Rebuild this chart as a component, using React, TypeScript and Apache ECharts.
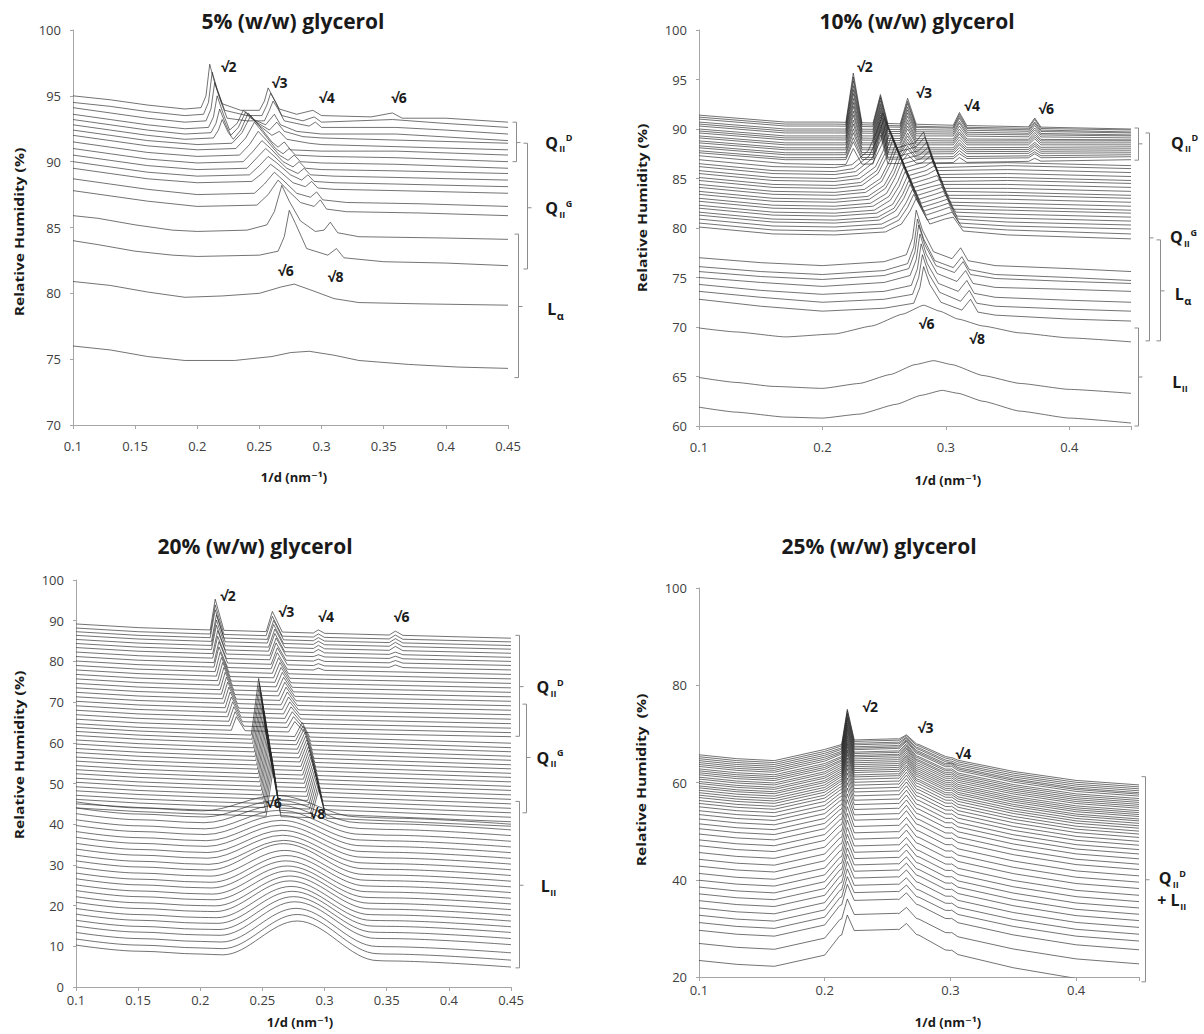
import React, { useEffect, useRef } from "react";
import * as echarts from "echarts";

const FONT = "'Open Sans', 'DejaVu Sans', sans-serif";

// ======================= DATA =======================
const titles = ["5% (w/w) glycerol", "10% (w/w) glycerol", "20% (w/w) glycerol", "25% (w/w) glycerol"];
const yAxisTitles = ["Relative Humidity (%)", "Relative Humidity (%)", "Relative Humidity (%)", "Relative Humidity  (%)"];
const xAxisTitle = "1/d (nm\u207B\u00B9)";

const xRange = [0.1, 0.45];
const xIntervals = [0.05, 0.1, 0.05, 0.1];
const yRanges = [
  [70, 100, 5],
  [60, 100, 5],
  [0, 100, 10],
  [20, 100, 20],
];

// ---- Panel 1 (5%): curves read as [x, y] key points ----
const p1Curves = [
  [[0.1,95.0],[0.13,94.7],[0.16,94.3],[0.19,94.0],[0.203,94.1],[0.207,95.0],[0.21,97.4],[0.214,96.0],[0.22,94.4],[0.235,93.9],[0.25,93.9],[0.254,94.6],[0.257,95.6],[0.261,94.9],[0.266,94.0],[0.28,93.6],[0.293,93.9],[0.3,93.5],[0.34,93.4],[0.357,93.7],[0.365,93.3],[0.4,93.3],[0.45,93.0]],
  [[0.1,94.5],[0.13,94.2],[0.16,93.8],[0.19,93.5],[0.205,93.6],[0.209,94.5],[0.212,96.8],[0.216,95.5],[0.222,93.9],[0.24,93.5],[0.252,93.5],[0.256,94.3],[0.259,95.2],[0.263,94.5],[0.268,93.5],[0.285,93.1],[0.294,93.4],[0.3,93.0],[0.357,93.2],[0.4,92.9],[0.45,92.6]],
  [[0.1,94.1],[0.13,93.7],[0.16,93.3],[0.19,93.0],[0.207,93.1],[0.211,94.0],[0.214,96.0],[0.218,94.8],[0.224,93.3],[0.24,93.1],[0.254,93.1],[0.258,93.9],[0.261,94.6],[0.265,94.0],[0.27,93.1],[0.29,92.7],[0.295,93.0],[0.3,92.6],[0.36,92.6],[0.4,92.4],[0.45,92.1]],
  [[0.1,93.6],[0.13,93.2],[0.16,92.8],[0.19,92.5],[0.209,92.6],[0.213,93.4],[0.216,95.0],[0.221,93.6],[0.226,92.4],[0.232,92.9],[0.237,93.9],[0.243,93.3],[0.255,92.8],[0.262,93.6],[0.267,92.8],[0.28,92.3],[0.3,92.1],[0.36,92.1],[0.45,91.6]],
  [[0.1,93.2],[0.13,92.8],[0.16,92.4],[0.19,92.1],[0.211,92.2],[0.215,92.9],[0.218,94.0],[0.223,92.8],[0.227,92.0],[0.233,92.6],[0.239,93.8],[0.246,93.1],[0.258,92.4],[0.264,93.0],[0.27,92.3],[0.285,91.9],[0.3,91.8],[0.45,91.4]],
  [[0.1,92.8],[0.13,92.4],[0.16,92.0],[0.19,91.7],[0.213,91.8],[0.217,92.4],[0.22,93.2],[0.225,92.2],[0.229,91.7],[0.235,92.4],[0.241,93.7],[0.248,92.9],[0.26,92.0],[0.266,92.3],[0.272,91.7],[0.29,91.4],[0.3,91.3],[0.45,90.9]],
  [[0.1,92.4],[0.13,92.0],[0.16,91.6],[0.2,91.3],[0.228,91.4],[0.236,92.2],[0.243,93.5],[0.25,92.7],[0.26,91.5],[0.265,91.1],[0.27,91.5],[0.275,90.9],[0.3,90.8],[0.36,90.8],[0.45,90.5]],
  [[0.1,92.0],[0.13,91.6],[0.16,91.2],[0.2,90.9],[0.231,91.0],[0.239,91.8],[0.246,93.0],[0.253,92.2],[0.263,91.0],[0.269,90.6],[0.274,91.0],[0.279,90.5],[0.3,90.4],[0.36,90.3],[0.45,90.0]],
  [[0.1,91.5],[0.13,91.1],[0.16,90.7],[0.2,90.4],[0.234,90.5],[0.242,91.3],[0.249,92.3],[0.256,91.6],[0.266,90.5],[0.273,90.1],[0.278,90.5],[0.283,90.0],[0.3,89.9],[0.36,89.8],[0.45,89.5]],
  [[0.1,91.0],[0.13,90.6],[0.16,90.2],[0.2,89.9],[0.237,90.0],[0.245,90.8],[0.252,91.6],[0.259,91.0],[0.269,90.0],[0.277,89.6],[0.282,90.0],[0.287,89.5],[0.3,89.4],[0.36,89.3],[0.45,89.1]],
  [[0.1,90.5],[0.13,90.1],[0.16,89.7],[0.2,89.4],[0.24,89.5],[0.248,90.3],[0.255,91.0],[0.262,90.4],[0.272,89.5],[0.281,89.1],[0.286,89.5],[0.291,89.0],[0.31,88.9],[0.36,88.8],[0.45,88.6]],
  [[0.1,90.0],[0.13,89.6],[0.16,89.2],[0.2,88.9],[0.242,89.0],[0.25,89.7],[0.257,90.4],[0.264,89.9],[0.275,89.0],[0.284,88.6],[0.289,89.0],[0.294,88.5],[0.31,88.4],[0.36,88.3],[0.45,88.1]],
  [[0.1,89.5],[0.13,89.1],[0.16,88.7],[0.2,88.4],[0.244,88.5],[0.252,89.1],[0.259,89.8],[0.266,89.3],[0.277,88.4],[0.287,88.1],[0.292,88.5],[0.297,88.0],[0.31,87.9],[0.36,87.8],[0.45,87.6]],
  [[0.1,88.7],[0.13,88.3],[0.16,87.9],[0.2,87.5],[0.246,87.6],[0.254,88.3],[0.262,89.2],[0.269,88.6],[0.28,87.6],[0.291,87.3],[0.296,87.7],[0.301,87.1],[0.32,86.9],[0.38,86.8],[0.45,86.6]],
  [[0.1,87.8],[0.13,87.4],[0.16,87.0],[0.2,86.6],[0.248,86.7],[0.257,87.5],[0.265,88.6],[0.272,87.9],[0.283,86.9],[0.294,86.6],[0.299,87.1],[0.304,86.4],[0.32,86.2],[0.38,86.1],[0.45,85.9]],
  [[0.1,85.9],[0.12,85.7],[0.15,85.2],[0.18,84.8],[0.2,84.7],[0.24,84.8],[0.256,85.2],[0.262,86.2],[0.268,88.2],[0.274,87.0],[0.283,85.5],[0.295,84.7],[0.302,84.8],[0.307,85.4],[0.313,84.6],[0.33,84.3],[0.4,84.2],[0.45,84.1]],
  [[0.1,84.0],[0.12,83.7],[0.15,83.2],[0.18,82.9],[0.2,82.8],[0.25,82.9],[0.265,83.2],[0.27,84.3],[0.274,86.3],[0.279,85.3],[0.288,83.4],[0.305,82.9],[0.312,83.4],[0.318,82.7],[0.35,82.4],[0.4,82.3],[0.45,82.1]],
  [[0.1,80.9],[0.13,80.6],[0.16,80.1],[0.19,79.7],[0.22,79.8],[0.25,80.0],[0.268,80.5],[0.278,80.7],[0.29,80.3],[0.31,79.6],[0.33,79.3],[0.38,79.2],[0.45,79.1]],
  [[0.1,76.0],[0.13,75.7],[0.16,75.2],[0.19,74.9],[0.23,74.9],[0.26,75.2],[0.275,75.5],[0.29,75.6],[0.31,75.3],[0.33,74.9],[0.37,74.6],[0.41,74.4],[0.45,74.3]],
];

// ---- Panel 2 (10%) ----
const p2D_baseX = [0.1, 0.17, 0.21, 0.3, 0.45];
const p2D_base = [
  [91.4,90.7,90.7,90.4,90.0],[91.2,90.5,90.5,90.2,89.9],[91.0,90.3,90.3,90.1,89.7],[90.7,90.0,90.0,89.9,89.6],
  [90.5,89.8,89.8,89.7,89.4],[90.3,89.6,89.6,89.5,89.3],[90.0,89.3,89.3,89.3,89.1],[89.8,89.1,89.1,89.0,88.9],
  [89.6,88.9,88.9,88.8,88.8],[89.3,88.6,88.6,88.6,88.6],[89.1,88.4,88.4,88.4,88.4],[88.8,88.1,88.1,88.1,88.2],
  [88.6,87.9,87.9,87.9,88.0],[88.3,87.6,87.6,87.7,87.8],[88.1,87.4,87.4,87.5,87.6],[87.8,87.1,87.1,87.2,87.4],
  [87.6,86.9,86.9,87.0,87.2],[87.3,86.5,86.4,86.6,86.9],
];
const p2D_peakX = [0.225, 0.247, 0.269, 0.311, 0.372];
const p2D_peakH = [
  [5.0,2.9,2.6,1.3,0.9],[4.8,2.9,2.5,1.3,0.9],[4.6,2.9,2.4,1.2,0.8],[4.4,2.9,2.3,1.2,0.8],
  [4.2,2.8,2.2,1.1,0.8],[4.0,2.8,2.1,1.1,0.7],[3.8,2.8,2.0,1.0,0.7],[3.6,2.8,1.9,1.0,0.7],
  [3.4,2.8,1.8,0.9,0.6],[3.2,2.8,1.7,0.9,0.6],[3.0,2.8,1.6,0.8,0.6],[2.8,2.8,1.5,0.8,0.5],
  [2.6,2.8,1.4,0.7,0.5],[2.4,2.8,1.3,0.7,0.5],[2.2,2.8,1.2,0.6,0.4],[2.0,2.8,1.1,0.6,0.4],
  [1.8,2.8,1.0,0.5,0.4],[1.6,2.9,0.9,0.5,0.3],
];
const p2G = [
  [[0.1,86.9],[0.16,86.2],[0.21,86.1],[0.224,86.4],[0.237,87.8],[0.244,89.7],[0.249,91.6],[0.26,88.1],[0.275,88.6],[0.282,89.7],[0.29,86.5],[0.35,86.6],[0.45,86.3]],
  [[0.1,86.5],[0.16,85.8],[0.21,85.7],[0.225,86.0],[0.238,87.3],[0.245,89.2],[0.25,91.1],[0.261,87.7],[0.276,88.2],[0.283,89.2],[0.291,86.1],[0.35,86.3],[0.45,86.0]],
  [[0.1,86.2],[0.16,85.5],[0.21,85.4],[0.227,85.7],[0.24,87.0],[0.247,88.8],[0.252,90.7],[0.263,87.3],[0.278,87.8],[0.285,88.7],[0.293,85.8],[0.35,85.9],[0.45,85.6]],
  [[0.1,85.8],[0.16,85.1],[0.21,85.0],[0.228,85.3],[0.241,86.6],[0.248,88.4],[0.253,90.2],[0.264,86.9],[0.279,87.4],[0.286,88.2],[0.294,85.4],[0.35,85.5],[0.45,85.2]],
  [[0.1,85.5],[0.16,84.8],[0.21,84.7],[0.23,85.0],[0.243,86.2],[0.25,88.0],[0.255,89.8],[0.266,86.5],[0.28,87.0],[0.287,87.8],[0.295,85.1],[0.35,85.1],[0.45,84.8]],
  [[0.1,85.1],[0.16,84.4],[0.21,84.3],[0.231,84.6],[0.244,85.8],[0.251,87.6],[0.256,89.3],[0.267,86.1],[0.281,86.6],[0.288,87.3],[0.296,84.7],[0.35,84.8],[0.45,84.5]],
  [[0.1,84.8],[0.16,84.1],[0.21,84.0],[0.232,84.3],[0.245,85.5],[0.252,87.2],[0.257,88.9],[0.268,85.7],[0.283,86.2],[0.29,86.8],[0.298,84.4],[0.35,84.4],[0.45,84.1]],
  [[0.1,84.4],[0.16,83.7],[0.21,83.6],[0.234,83.9],[0.247,85.0],[0.254,86.7],[0.259,88.4],[0.27,85.3],[0.284,85.8],[0.291,86.3],[0.299,84.0],[0.35,84.0],[0.45,83.7]],
  [[0.1,84.1],[0.16,83.4],[0.21,83.3],[0.235,83.6],[0.248,84.7],[0.255,86.4],[0.26,88.0],[0.271,84.9],[0.285,85.4],[0.292,85.9],[0.3,83.7],[0.35,83.6],[0.45,83.3]],
  [[0.1,83.7],[0.16,83.0],[0.21,82.9],[0.237,83.2],[0.25,84.3],[0.257,85.9],[0.262,87.5],[0.273,84.5],[0.286,85.0],[0.293,85.3],[0.301,83.3],[0.35,83.3],[0.45,83.0]],
  [[0.1,83.4],[0.16,82.7],[0.21,82.6],[0.238,82.9],[0.251,84.0],[0.258,85.5],[0.263,87.1],[0.274,84.1],[0.288,84.6],[0.295,84.9],[0.303,83.0],[0.35,82.9],[0.45,82.6]],
  [[0.1,83.0],[0.16,82.3],[0.21,82.2],[0.239,82.5],[0.252,83.5],[0.259,85.1],[0.264,86.6],[0.275,83.7],[0.289,84.2],[0.296,84.4],[0.304,82.6],[0.35,82.5],[0.45,82.2]],
  [[0.1,82.7],[0.16,82.0],[0.21,81.9],[0.241,82.2],[0.254,83.2],[0.261,84.7],[0.266,86.2],[0.277,83.3],[0.29,83.8],[0.297,84.1],[0.305,82.3],[0.35,82.1],[0.45,81.8]],
  [[0.1,82.3],[0.16,81.6],[0.21,81.5],[0.242,81.8],[0.255,82.8],[0.262,84.2],[0.267,85.7],[0.278,82.9],[0.291,83.4],[0.298,83.7],[0.306,81.9],[0.35,81.8],[0.45,81.5]],
  [[0.1,82.0],[0.16,81.3],[0.21,81.2],[0.244,81.5],[0.257,82.4],[0.264,83.9],[0.269,85.3],[0.28,82.5],[0.293,83.0],[0.3,83.3],[0.308,81.6],[0.35,81.4],[0.45,81.1]],
  [[0.1,81.6],[0.16,80.9],[0.21,80.8],[0.245,81.1],[0.258,82.0],[0.265,83.4],[0.27,84.8],[0.281,82.1],[0.294,82.6],[0.301,82.9],[0.309,81.2],[0.35,81.0],[0.45,80.7]],
  [[0.1,81.3],[0.16,80.6],[0.21,80.5],[0.246,80.8],[0.259,81.7],[0.266,83.0],[0.271,84.4],[0.282,81.7],[0.295,82.2],[0.302,82.5],[0.31,80.9],[0.35,80.6],[0.45,80.3]],
  [[0.1,80.9],[0.16,80.2],[0.21,80.1],[0.248,80.4],[0.261,81.2],[0.268,82.6],[0.273,83.9],[0.284,81.3],[0.296,81.8],[0.303,82.1],[0.311,80.5],[0.35,80.2],[0.45,79.9]],
  [[0.1,80.5],[0.16,79.8],[0.21,79.7],[0.249,80.0],[0.262,80.8],[0.269,82.1],[0.274,83.4],[0.285,80.8],[0.298,81.3],[0.305,81.6],[0.313,80.1],[0.35,79.8],[0.45,79.4]],
  [[0.1,80.1],[0.16,79.4],[0.21,79.3],[0.251,79.6],[0.264,80.4],[0.271,81.7],[0.276,83.0],[0.287,80.4],[0.299,80.9],[0.306,81.1],[0.314,79.7],[0.35,79.3],[0.45,78.9]],
];
const p2La = [
  [[0.1,77.0],[0.15,76.5],[0.2,76.2],[0.25,76.6],[0.268,77.3],[0.273,79.0],[0.276,81.8],[0.281,79.8],[0.29,77.6],[0.305,76.9],[0.312,78.0],[0.318,76.7],[0.34,76.2],[0.4,75.9],[0.45,75.6]],
  [[0.1,76.1],[0.15,75.6],[0.2,75.3],[0.25,75.7],[0.269,76.4],[0.274,78.1],[0.277,80.9],[0.282,78.9],[0.291,76.7],[0.306,76.0],[0.313,77.1],[0.319,75.8],[0.34,75.3],[0.4,75.0],[0.45,74.7]],
  [[0.1,75.6],[0.15,75.1],[0.2,74.8],[0.25,75.2],[0.27,75.9],[0.275,77.6],[0.278,80.3],[0.283,78.3],[0.292,76.2],[0.307,75.5],[0.314,76.6],[0.32,75.3],[0.34,74.9],[0.4,74.6],[0.45,74.4]],
  [[0.1,75.0],[0.15,74.5],[0.2,74.1],[0.25,74.5],[0.271,75.2],[0.276,76.8],[0.279,79.4],[0.284,77.4],[0.293,75.4],[0.309,74.6],[0.316,75.7],[0.322,74.4],[0.34,74.0],[0.4,73.8],[0.45,73.6]],
  [[0.1,74.3],[0.15,73.7],[0.2,73.3],[0.25,73.6],[0.272,74.2],[0.277,75.9],[0.28,78.4],[0.285,76.4],[0.294,74.4],[0.31,73.6],[0.317,74.7],[0.323,73.4],[0.34,73.0],[0.4,72.7],[0.45,72.5]],
  [[0.1,73.6],[0.15,73.0],[0.2,72.5],[0.25,72.8],[0.273,73.3],[0.278,75.0],[0.281,77.3],[0.286,75.4],[0.295,73.5],[0.312,72.6],[0.319,73.7],[0.325,72.4],[0.34,72.1],[0.4,71.8],[0.45,71.6]],
  [[0.1,72.8],[0.15,72.1],[0.2,71.6],[0.25,71.9],[0.274,72.4],[0.279,74.0],[0.282,76.1],[0.287,74.3],[0.296,72.5],[0.313,71.7],[0.32,72.8],[0.326,71.5],[0.34,71.2],[0.4,70.8],[0.45,70.6]],
];
const p2Broad = [
  [[0.1,69.9],[0.13,69.5],[0.17,69.0],[0.21,69.3],[0.24,70.1],[0.265,71.3],[0.282,72.2],[0.295,71.6],[0.31,70.8],[0.33,70.1],[0.36,69.4],[0.4,68.9],[0.45,68.5]],
  [[0.1,64.9],[0.13,64.4],[0.16,64.0],[0.2,63.8],[0.23,64.3],[0.255,65.2],[0.275,66.2],[0.29,66.6],[0.305,66.2],[0.33,65.1],[0.36,64.3],[0.4,63.7],[0.45,63.3]],
  [[0.1,61.9],[0.13,61.4],[0.17,60.9],[0.2,60.8],[0.23,61.2],[0.26,62.2],[0.28,63.1],[0.297,63.6],[0.31,63.3],[0.33,62.5],[0.36,61.5],[0.4,60.8],[0.45,60.3]],
];

// ---- Panel 3 (20%) ----
// Q_II^D: [left, right, x(√2), h(√2), x(√3), h(√3), h(√4), h(√6)]
const p3D = [
  [89.2,85.7,0.212,7.6,0.258,5.0,0.8,1.0],[88.2,84.8,0.212,7.2,0.258,4.8,0.8,1.0],[87.3,83.9,0.212,6.9,0.259,4.7,0.8,1.0],
  [86.4,83.0,0.213,6.6,0.259,4.6,0.8,1.0],[85.4,82.0,0.213,6.3,0.26,4.5,0.8,1.0],[84.4,81.0,0.213,6.0,0.26,4.4,0.8,0.6],
  [83.4,80.0,0.214,5.7,0.261,4.3,0.5,0.6],[82.3,79.0,0.214,5.4,0.261,4.2,0.5,0.6],[81.2,77.9,0.215,5.2,0.262,4.1,0.5,0.6],
  [80.1,76.8,0.215,5.0,0.262,4.0,0.5,0],[79.0,75.7,0.216,4.8,0.263,3.9,0,0],[77.9,74.6,0.217,4.6,0.264,3.8,0,0],
  [76.8,73.5,0.218,4.5,0.265,3.7,0,0],[75.7,72.4,0.219,4.4,0.266,3.6,0,0],[74.6,71.3,0.22,4.3,0.267,3.5,0,0],
  [73.5,70.2,0.221,4.2,0.268,3.4,0,0],[72.4,69.1,0.222,4.1,0.269,3.3,0,0],[71.3,68.0,0.223,4.0,0.27,3.2,0,0],
  [70.2,66.9,0.224,3.9,0.271,3.1,0,0],[69.1,65.8,0.225,3.8,0.272,3.0,0,0],[68.0,64.7,0.226,3.7,0.273,2.9,0,0],
  [66.9,63.6,0.227,3.6,0.274,2.8,0,0],[65.8,62.5,0.228,3.5,0.275,2.7,0,0],[64.7,61.5,0.229,3.4,0.276,2.6,0,0],
];
// Q_II^G: [left, right, x1, h1, x2, h2]
const p3G = [
  [63.8,59.9,0.247,14.0,0.282,3.5],[62.8,58.8,0.2476,13.9,0.2827,3.7],[61.8,57.8,0.2482,13.8,0.2834,3.9],
  [60.7,56.7,0.2489,13.7,0.2841,4.1],[59.7,55.7,0.2495,13.6,0.2848,4.3],[58.6,54.6,0.2501,13.5,0.2855,4.5],
  [57.6,53.6,0.2507,13.4,0.2862,4.7],[56.5,52.5,0.2514,13.3,0.2869,4.9],[55.5,51.5,0.252,13.2,0.2876,5.1],
  [54.4,50.4,0.2526,13.1,0.2883,5.3],[53.4,49.3,0.2532,13.0,0.289,5.5],[52.4,48.3,0.2539,12.9,0.2897,5.7],
  [51.3,47.2,0.2545,12.8,0.2904,5.9],[50.3,46.1,0.2551,12.7,0.2911,6.1],[49.2,45.0,0.2557,12.6,0.2918,6.3],
  [48.2,43.9,0.2564,12.5,0.2925,6.5],[47.1,42.8,0.257,12.4,0.2932,6.7],[46.1,41.7,0.2576,12.3,0.2939,6.8],
  [45.0,40.6,0.2582,12.2,0.2946,6.9],[44.0,39.5,0.2589,12.1,0.2953,7.0],
];
// L_II: [left, right, x(bump), h(bump)]
const p3L = [
  [45.5,40.0,0.262,4.5],[44.0,38.6,0.263,4.8],[42.6,37.2,0.263,5.0],[41.1,35.8,0.264,5.2],[39.7,34.4,0.264,5.4],
  [38.2,33.0,0.265,5.6],[36.8,31.6,0.265,5.8],[35.3,30.2,0.266,6.0],[33.9,28.8,0.266,6.2],[32.4,27.4,0.267,6.4],
  [31.0,26.0,0.267,7.0],[29.5,24.6,0.268,6.8],[28.0,23.2,0.269,7.0],[26.6,21.8,0.269,7.1],[25.1,20.4,0.27,7.3],
  [23.7,19.0,0.271,7.5],[22.2,17.6,0.272,7.7],[20.8,16.2,0.272,7.9],[19.3,14.8,0.273,8.0],[17.9,13.4,0.274,8.2],
  [16.4,11.9,0.275,8.4],[15.0,10.4,0.276,8.6],[13.4,8.4,0.277,8.8],[11.8,6.6,0.278,9.0],[10.3,4.9,0.278,9.0],
];

// ---- Panel 4 (25%): [left, plateau, right, h(√2), h(√3)] ----
const p4 = [
  [65.7,68.8,59.5,6.8,1.3],[65.3,68.5,59.1,6.8,1.4],[64.9,68.1,58.7,6.7,1.5],[64.5,67.8,58.3,6.7,1.6],
  [64.1,67.4,57.9,6.6,1.7],[63.7,67.1,57.6,6.6,1.8],[63.3,66.8,57.2,6.5,1.9],[62.8,66.3,56.7,6.5,2.0],
  [62.4,66.0,56.3,6.4,2.0],[62.0,65.6,55.9,6.4,2.1],[61.6,65.3,55.5,6.3,2.1],[61.1,64.9,55.1,6.3,2.2],
  [60.7,64.5,54.7,6.2,2.2],[60.2,64.1,54.2,6.1,2.2],[59.8,63.7,53.8,6.1,2.2],[59.3,63.3,53.4,6.0,2.3],
  [58.9,62.9,53.0,5.9,2.3],[58.4,62.5,52.5,5.9,2.3],[57.9,62.1,52.1,5.8,2.3],[57.4,61.6,51.6,5.7,2.3],
  [56.9,61.2,51.1,5.7,2.3],[56.3,60.7,50.6,5.6,2.3],[55.7,60.1,50.0,5.5,2.3],[55.0,59.5,49.4,5.4,2.3],
  [54.2,58.8,48.7,5.4,2.3],[53.4,58.1,47.9,5.3,2.3],[52.5,57.3,47.1,5.2,2.3],[51.5,56.4,46.2,5.1,2.3],
  [50.5,55.5,45.3,5.0,2.2],[49.4,54.5,44.3,4.9,2.2],[48.2,53.4,43.2,4.8,2.2],[47.0,52.3,42.1,4.7,2.2],
  [45.6,51.0,40.8,4.6,2.1],[44.2,49.7,39.5,4.5,2.1],[42.8,48.4,38.2,4.4,2.1],[41.3,47.0,36.8,4.3,2.0],
  [39.9,45.7,35.5,4.2,2.0],[38.5,44.4,34.2,4.1,2.0],[37.1,43.1,32.9,4.0,1.9],[35.7,41.8,31.6,4.0,1.9],
  [34.2,40.4,30.2,3.9,1.9],[32.7,38.9,28.8,3.9,1.8],[31.2,37.4,27.4,3.8,1.8],[29.6,35.8,25.6,3.8,1.8],
  [26.9,32.9,22.7,3.7,1.7],[23.4,29.6,18.6,3.7,1.7],
];
const p4ProfileX = [0.1, 0.13, 0.16, 0.2, 0.212, 0.224, 0.258, 0.275, 0.3, 0.35, 0.4, 0.45];
const p4ProfileW = [
  [1,0,0,0],[1,0,0,-0.8],[1,0,0,-1.2],[1,0,0,1.1],[0,1,0,-1.1],[0,1,0,0],
  [0,1,0,0.2],[0,1,0,-1.0],[0,0.58,0.42,0],[0,0.3,0.7,0],[0,0.1,0.9,0],[0,0,1,0],
];

// ---- Annotations ----
const sqrtMarks = [
  [0,"\u221A2",0.219,97.2],[0,"\u221A3",0.26,96.0],[0,"\u221A4",0.298,94.85],[0,"\u221A6",0.356,94.9],[0,"\u221A6",0.265,81.7],[0,"\u221A8",0.305,81.3],
  [1,"\u221A2",0.228,96.3],[1,"\u221A3",0.276,93.7],[1,"\u221A4",0.315,92.4],[1,"\u221A6",0.375,92.1],[1,"\u221A6",0.278,70.4],[1,"\u221A8",0.319,68.8],
  [2,"\u221A2",0.216,96.1],[2,"\u221A3",0.263,92.3],[2,"\u221A4",0.295,91.0],[2,"\u221A6",0.3557,91.1],[2,"\u221A6",0.253,45.3],[2,"\u221A8",0.288,42.6],
  [3,"\u221A2",0.23,75.7],[3,"\u221A3",0.274,71.3],[3,"\u221A4",0.304,66.0],
];
const brackets = [
  [0,0.4565,93.0,90.0,91.45],[0,0.4652,91.4,81.85,86.5],[0,0.458,84.5,73.6,79.0],
  [1,0.4555,90.1,86.85,88.5],[1,0.4647,89.6,68.6,79.0],[1,0.4737,78.8,68.6,73.65],[1,0.4558,69.9,60.0,64.95],
  [2,0.4568,86.4,61.6,73.8],[2,0.462,69.5,42.8,56.4],[2,0.4568,45.6,4.7,25.0],
  [3,0.455,61.2,19.0,40.0],
];
const phaseLabels = [
  [0,"Q","II","D",0.48,91.45],[0,"Q","II","G",0.48,86.45],[0,"L","\u03B1","",0.4815,78.8],
  [1,"Q","II","D",0.4825,88.6],[1,"Q","II","G",0.4815,79.05],[1,"L","\u03B1","",0.4855,73.3],[1,"L","II","",0.4835,64.4],
  [2,"Q","II","D",0.4705,73.6],[2,"Q","II","G",0.4705,56.3],[2,"L","II","",0.474,24.8],
  [3,"Q","II","D",0.4657,40.3],[3,"+ L","II","",0.4645,35.8],
];

// ======================= LAYOUT / STYLE =======================
const GRIDS = [
  { left: 73, top: 30, width: 435, height: 395 },
  { left: 699, top: 30, width: 432, height: 396 },
  { left: 76, top: 580, width: 435, height: 407 },
  { left: 699, top: 588, width: 440, height: 389 },
];
const X_LABEL_MARGIN = [14, 14, 6, 6];
const TITLE_POS = [[293, 21], [917, 21], [255, 546], [879, 546]];
const XTITLE_POS = [[294, 477], [948, 480], [300, 1022], [948, 1022]];
const YTITLE_POS = [[19, 232], [642, 208], [19, 755], [641, 780]];
const LINE_COLOR = "rgba(40,40,40,0.65)";
const AXIS_COLOR = "#a6a6a6";

// ======================= BUILD =======================
type Pt = [number, number];
function baseAt(anchors: Pt[], x: number) {
  for (let i = 0; i < anchors.length - 1; i++) {
    const [x0, y0] = anchors[i];
    const [x1, y1] = anchors[i + 1];
    if (x >= x0 - 1e-9 && x <= x1 + 1e-9) return y0 + ((y1 - y0) * (x - x0)) / (x1 - x0);
  }
  return x < anchors[0][0] ? anchors[0][1] : anchors[anchors.length - 1][1];
}
function tri(x: number, p: number[]) {
  const [c, h, wl, wr] = p;
  if (x <= c - wl || x >= c + wr) return 0;
  return x <= c ? (h * (x - (c - wl))) / wl : (h * (c + wr - x)) / wr;
}
function buildCurve(anchors: Pt[], peaks: number[][]): Pt[] {
  const xs: number[] = anchors.map((a) => a[0]);
  peaks.forEach((p) => {
    if (!p[1]) return;
    xs.push(p[0] - p[2], p[0], p[0] + p[3]);
  });
  const uniq = Array.from(new Set(xs.map((v) => Math.round(v * 100000) / 100000)))
    .filter((v) => v >= 0.1 - 1e-9 && v <= 0.45 + 1e-9)
    .sort((a, b) => a - b);
  return uniq.map((x) => {
    const y = baseAt(anchors, x) + peaks.reduce((s, p) => s + (p[1] ? tri(x, p) : 0), 0);
    return [x, Math.round(y * 100) / 100] as Pt;
  });
}

function allCurves() {
  const out: { panel: number; data: Pt[]; smooth?: number }[] = [];
  p1Curves.forEach((c) => out.push({ panel: 0, data: c as Pt[] }));

  const p2W = [[0.006, 0.007], [0.006, 0.006], [0.006, 0.007], [0.005, 0.006], [0.005, 0.005]];
  p2D_base.forEach((row, i) => {
    const anchors = p2D_baseX.map((x, k) => [x, row[k]] as Pt);
    const peaks = p2D_peakX.map((x, k) => [x, p2D_peakH[i][k], p2W[k][0], p2W[k][1]]);
    out.push({ panel: 1, data: buildCurve(anchors, peaks) });
  });
  p2G.forEach((c) => out.push({ panel: 1, data: c as Pt[] }));
  p2La.forEach((c) => out.push({ panel: 1, data: c as Pt[] }));
  p2Broad.forEach((c) => out.push({ panel: 1, data: c as Pt[], smooth: 0.15 }));

  p3D.forEach(([L, R, x2, h2, x3, h3, h4, h6]) => {
    const anchors: Pt[] = [[0.1, L], [0.15, L - 0.9], [0.2, L - 1.4], [0.3, L - 2.3], [0.45, R]];
    const peaks = [[x2, h2, 0.004, 0.007], [x3, h3, 0.005, 0.008], [0.295, h4, 0.004, 0.005], [0.357, h6, 0.005, 0.006]];
    out.push({ panel: 2, data: buildCurve(anchors, peaks) });
  });
  p3G.forEach(([L, R, x1, h1, x2, h2]) => {
    const anchors: Pt[] = [[0.1, L], [0.15, L - 0.9], [0.2, L - 1.5], [0.3, L - 2.5], [0.45, R]];
    const peaks = [[x1, h1, 0.006, 0.006], [x2, h2, 0.006, 0.006]];
    out.push({ panel: 2, data: buildCurve(anchors, peaks) });
  });
  p3L.forEach(([L, R, xb, hb]) => {
    const anchors: Pt[] = [[0.1, L], [0.15, L - 1.5], [0.2, L - 2.2], [0.35, R + 1.5], [0.45, R]];
    const peaks = [[xb, hb, 0.06, 0.065]];
    out.push({ panel: 2, data: buildCurve(anchors, peaks), smooth: 0.35 });
  });

  p4.forEach(([L, P, R, h2, h3], k) => {
    const anchors = p4ProfileX.map((x, i) => {
      const w = p4ProfileW[i];
      return [x, w[0] * L + w[1] * P + w[2] * R + w[3]] as Pt;
    });
    const peaks = [[0.218, h2, 0.0045, 0.0055], [0.265, h3, 0.006, 0.008], [0.301, k >= 4 ? 0.6 : 0.3, 0.005, 0.005]];
    out.push({ panel: 3, data: buildCurve(anchors, peaks) });
  });
  return out;
}

function buildOption() {
  const curves = allCurves();
  return {
    animation: false,
    backgroundColor: "#ffffff",
    grid: GRIDS.map((g) => ({ ...g, containLabel: false })),
    xAxis: GRIDS.map((_, i) => ({
      type: "value",
      gridIndex: i,
      min: xRange[0],
      max: xRange[1],
      interval: xIntervals[i],
      axisLine: { show: true, lineStyle: { color: AXIS_COLOR, width: 1 } },
      axisTick: { show: true, length: 4, lineStyle: { color: AXIS_COLOR } },
      splitLine: { show: false },
      axisLabel: {
        color: "#404040",
        fontSize: 13,
        fontFamily: FONT,
        margin: X_LABEL_MARGIN[i],
        formatter: (v: number) => {
          if (Math.abs(v - 0.45) < 1e-6 && xIntervals[i] === 0.1) return "";
          return String(Math.round(v * 1000) / 1000);
        },
      },
    })),
    yAxis: GRIDS.map((_, i) => ({
      type: "value",
      gridIndex: i,
      min: yRanges[i][0],
      max: yRanges[i][1],
      interval: yRanges[i][2],
      axisLine: { show: true, lineStyle: { color: AXIS_COLOR, width: 1 } },
      axisTick: { show: true, length: 3, lineStyle: { color: AXIS_COLOR } },
      splitLine: { show: false },
      axisLabel: { color: "#404040", fontSize: 13, fontFamily: FONT, margin: 12 },
    })),
    series: curves.map((c) => ({
      type: "line",
      xAxisIndex: c.panel,
      yAxisIndex: c.panel,
      data: c.data,
      symbol: "none",
      showSymbol: false,
      silent: true,
      smooth: c.smooth || false,
      smoothMonotone: c.smooth ? "x" : undefined,
      clip: true,
      lineStyle: { color: LINE_COLOR, width: 1 },
    })),
  };
}

function txt(x: number, y: number, text: string, size: number, bold: boolean, align = "left", extra: any = {}) {
  return {
    type: "text",
    x,
    y,
    silent: true,
    ...extra,
    style: {
      text,
      x: 0,
      y: 0,
      fill: "#1a1a1a",
      fontSize: size,
      fontWeight: bold ? "bold" : "normal",
      fontFamily: FONT,
      align,
      verticalAlign: "middle",
      textAlign: align,
      textVerticalAlign: "middle",
    },
  };
}

function buildGraphics(chart: any) {
  const px = (p: number, x: number, y: number) => chart.convertToPixel({ gridIndex: p }, [x, y]) as number[];
  const els: any[] = [];
  titles.forEach((t, i) => els.push(txt(TITLE_POS[i][0], TITLE_POS[i][1], t, 21, true, "center")));
  XTITLE_POS.forEach((p) => els.push(txt(p[0], p[1], xAxisTitle, 13, true, "center")));
  yAxisTitles.forEach((t, i) =>
    els.push(txt(YTITLE_POS[i][0], YTITLE_POS[i][1], t, 13, true, "center", { rotation: Math.PI / 2, scaleX: 1.2 }))
  );
  sqrtMarks.forEach(([p, t, x, y]) => {
    const [a, b] = px(p as number, x as number, y as number);
    els.push(txt(a, b, t as string, 14, true, "left"));
  });
  brackets.forEach(([p, x, yt, yb, ym]) => {
    const [vx, top] = px(p, x, yt);
    const [, bot] = px(p, x, yb);
    const [, mid] = px(p, x, ym);
    const sx = Math.round(vx) + 0.5;
    els.push({
      type: "polyline",
      silent: true,
      shape: { points: [[sx - 4, top], [sx, top], [sx, bot], [sx - 4, bot]] },
      style: { stroke: "#8c8c8c", lineWidth: 1, fill: null },
    });
    els.push({
      type: "line",
      silent: true,
      shape: { x1: sx, y1: mid, x2: sx + 4, y2: mid },
      style: { stroke: "#8c8c8c", lineWidth: 1 },
    });
  });
  const subOffset: Record<string, number> = { Q: 14, L: 9.5, "+ L": 23 };
  phaseLabels.forEach(([p, main, sub, sup, x, y]) => {
    const [a, b] = px(p as number, x as number, y as number);
    els.push(txt(a, b, main as string, 16, true, "left"));
    const off = subOffset[main as string] || 12;
    els.push(txt(a + off, b + 6, sub as string, sub === "\u03B1" ? 11 : 9, true, "left"));
    if (sup) els.push(txt(a + off + 6.5, b - 5, sup as string, 9, true, "left"));
  });
  return els;
}

export default function App() {
  const ref = useRef<HTMLDivElement>(null);
  useEffect(() => {
    document.body.style.margin = "0";
    const chart = echarts.init(ref.current as HTMLDivElement, null, { renderer: "svg" });
    chart.setOption(buildOption() as any);
    chart.setOption({ graphic: { elements: buildGraphics(chart) } } as any);
    return () => chart.dispose();
  }, []);
  return <div ref={ref} style={{ width: 1204, height: 1034, background: "#fff" }} />;
}
